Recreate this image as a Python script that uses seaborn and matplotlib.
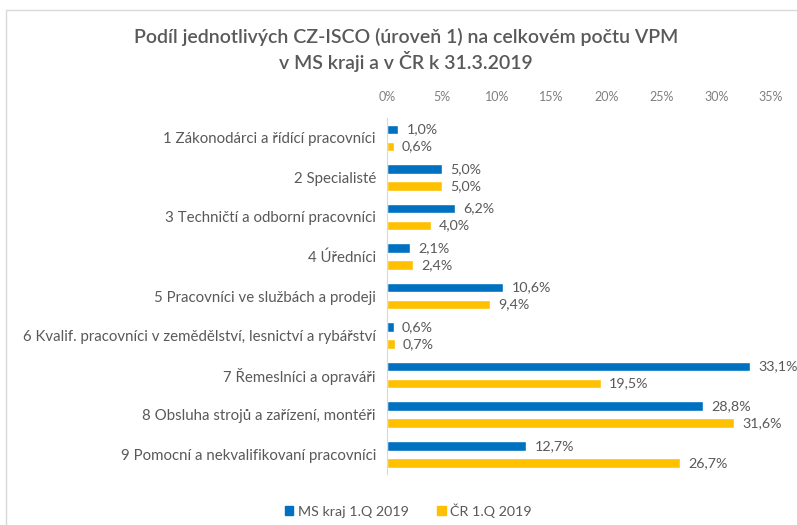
import pandas as pd
import matplotlib
matplotlib.use('Agg')
import matplotlib.pyplot as plt
import seaborn as sns
from matplotlib.patches import Rectangle

# Data
categories = [
    '1 Zákonodárci a řídící pracovníci',
    '2 Specialisté',
    '3 Techničtí a odborní pracovníci',
    '4 Úředníci',
    '5 Pracovníci ve službách a prodeji',
    '6 Kvalif. pracovníci v zemědělství, lesnictví a rybářství',
    '7 Řemeslníci a opraváři',
    '8 Obsluha strojů a zařízení, montéři',
    '9 Pomocní a nekvalifikovaní pracovníci',
]
ms_kraj = [1.0, 5.0, 6.2, 2.1, 10.6, 0.6, 33.1, 28.8, 12.7]
cr = [0.6, 5.0, 4.0, 2.4, 9.4, 0.7, 19.5, 31.6, 26.7]
series_names = ['MS kraj 1.Q 2019', 'ČR 1.Q 2019']
x_ticks = [0, 5, 10, 15, 20, 25, 30, 35]

df = pd.DataFrame({
    'kategorie': categories * 2,
    'podil': ms_kraj + cr,
    'serie': [series_names[0]] * len(categories) + [series_names[1]] * len(categories),
})

sns.set_style('white')
plt.rcParams['font.family'] = ['Lato', 'DejaVu Sans']
gray = '#595959'
palette = {series_names[0]: '#0070C0', series_names[1]: '#FFC000'}

fig = plt.figure(figsize=(7.97, 5.25), dpi=100)
ax = fig.add_axes([0.4856, 0.0971, 0.4818, 0.6781])

sns.barplot(data=df, y='kategorie', x='podil', hue='serie', palette=palette,
            orient='h', width=0.86, gap=0.44, ax=ax, legend=False,
            saturation=1)

for cont in ax.containers:
    ax.bar_label(cont, labels=[f'{v:.1f}%'.replace('.', ',') for v in cont.datavalues],
                 padding=6, color=gray, fontsize=10.3)

ax.set_xlim(0, 35)
ax.set_xticks(x_ticks)
ax.set_xticklabels([f'{t}%' for t in x_ticks])
ax.xaxis.tick_top()
ax.tick_params(axis='x', length=0, pad=11, labelsize=9, labelcolor='#7f7f7f')
ax.tick_params(axis='y', length=0, pad=8, labelsize=10.8, labelcolor=gray)
ax.set_xlabel('')
ax.set_ylabel('')
for s in ['top', 'right', 'bottom']:
    ax.spines[s].set_visible(False)
ax.spines['left'].set_color('#d9d9d9')

fig.text(0.509, 0.905, 'Podíl jednotlivých CZ-ISCO (úroveň 1) na celkovém počtu VPM\nv MS kraji a v ČR k 31.3.2019',
         ha='center', va='center', fontsize=14, fontweight='semibold', color=gray, linespacing=1.25)

handles = [Rectangle((0, 0), 1, 1, color=palette[n]) for n in series_names]
fig.legend(handles, series_names, loc='center', bbox_to_anchor=(0.512, 0.028), ncol=2,
           frameon=False, fontsize=10.3, labelcolor=gray, handlelength=0.6, handleheight=0.6,
           handletextpad=0.3, columnspacing=2.0)

# chart border
fig.patches.append(Rectangle((6 / 797, -0.1), 1.2, 1 - 10 / 525 + 0.1, transform=fig.transFigure,
                             fill=False, edgecolor='#d9d9d9', linewidth=1))

fig.savefig('out.png', dpi=100)
